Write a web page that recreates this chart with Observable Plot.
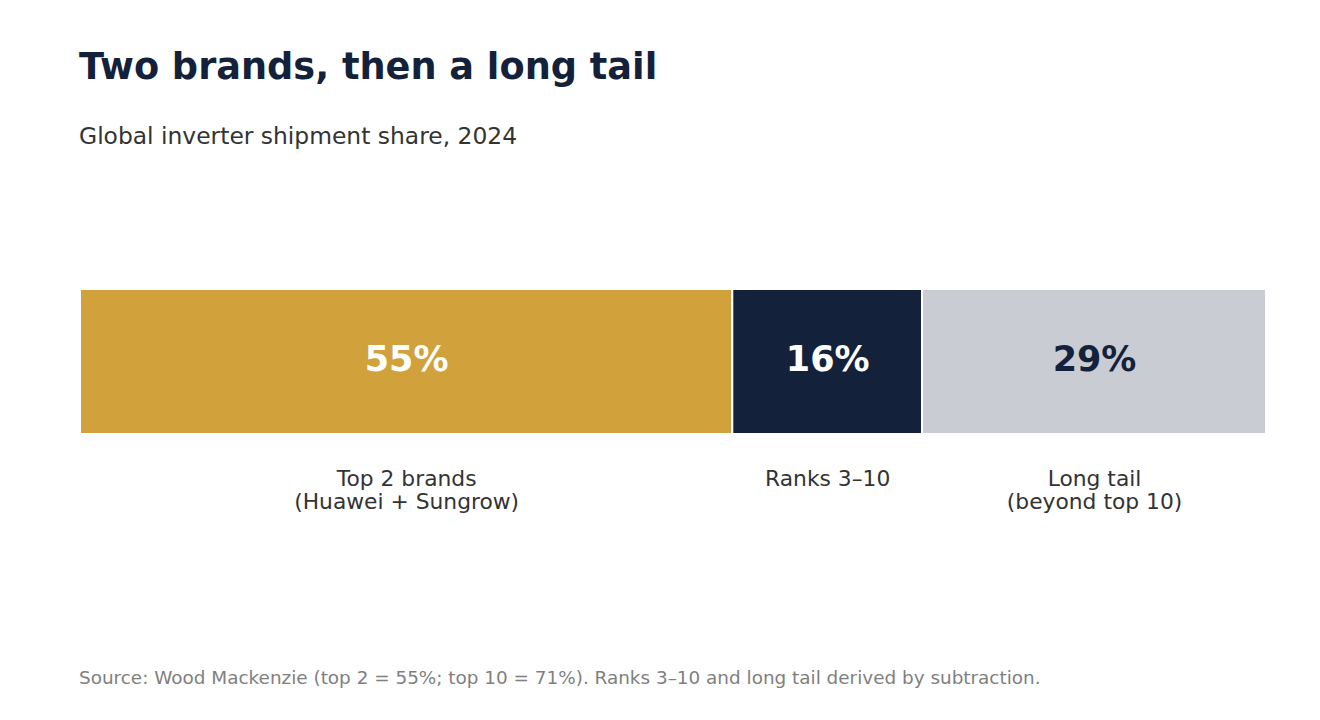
<!DOCTYPE html>
<html>
<head>
<meta charset="utf-8">
<script src="https://cdn.jsdelivr.net/npm/d3@7"></script>
<script src="https://cdn.jsdelivr.net/npm/@observablehq/plot@0.6"></script>
<style>
  html, body { margin: 0; padding: 0; background: #fff; }
  body { width: 1320px; height: 720px; position: relative; overflow: hidden; font-family: "DejaVu Sans", sans-serif; }
  #title { position: absolute; left: 79px; top: 49px; font-size: 36.7px; font-weight: bold; color: #13223a; line-height: 1; white-space: nowrap; }
  #subtitle { position: absolute; left: 79px; top: 125px; font-size: 23.4px; color: #333333; line-height: 1; white-space: nowrap; }
  #source { position: absolute; left: 79px; top: 669px; font-size: 18.4px; color: #7f7f7f; line-height: 1; white-space: nowrap; }
  #chart { position: absolute; left: 0; top: 0; }
</style>
</head>
<body>
<div id="chart"></div>
<div id="title">Two brands, then a long tail</div>
<div id="subtitle">Global inverter shipment share, 2024</div>
<div id="source">Source: Wood Mackenzie (top 2 = 55%; top 10 = 71%). Ranks 3–10 and long tail derived by subtraction.</div>
<script>
// Shipment share segments (percent of global total)
const segments = ["Top 2 brands\n(Huawei + Sungrow)", "Ranks 3–10", "Long tail\n(beyond top 10)"];
const shares = [55, 16, 29];
const fills = ["#d1a23b", "#13223a", "#caccd4"];
const valueColors = ["#ffffff", "#ffffff", "#13223a"];

const data = segments.map((name, i) => ({
  name,
  share: shares[i],
  row: "share",
  fill: fills[i],
  ink: valueColors[i]
}));

const chart = Plot.plot({
  width: 1320,
  height: 720,
  marginLeft: 80,
  marginRight: 54,
  marginTop: 289,
  marginBottom: 286,
  style: { fontFamily: "DejaVu Sans, sans-serif", background: "transparent" },
  x: { domain: [0, 100], axis: null },
  y: { domain: ["share"], axis: null, padding: 0 },
  marks: [
    Plot.barX(data, Plot.stackX({
      x: "share", y: "row", fill: "fill", stroke: "#ffffff", strokeWidth: 2, order: null
    })),
    Plot.text(data, Plot.stackX({
      x: "share", y: "row", order: null,
      text: d => `${d.share}%`,
      fill: "ink", fontSize: 35, fontWeight: "bold", dy: -2
    })),
    Plot.text(data, Plot.stackX({
      x: "share", y: "row", order: null,
      text: "name", fill: "#333333", fontSize: 21.8,
      lineAnchor: "top", lineHeight: 1.05, dy: 108
    }))
  ]
});
document.getElementById("chart").appendChild(chart);
</script>
</body>
</html>
